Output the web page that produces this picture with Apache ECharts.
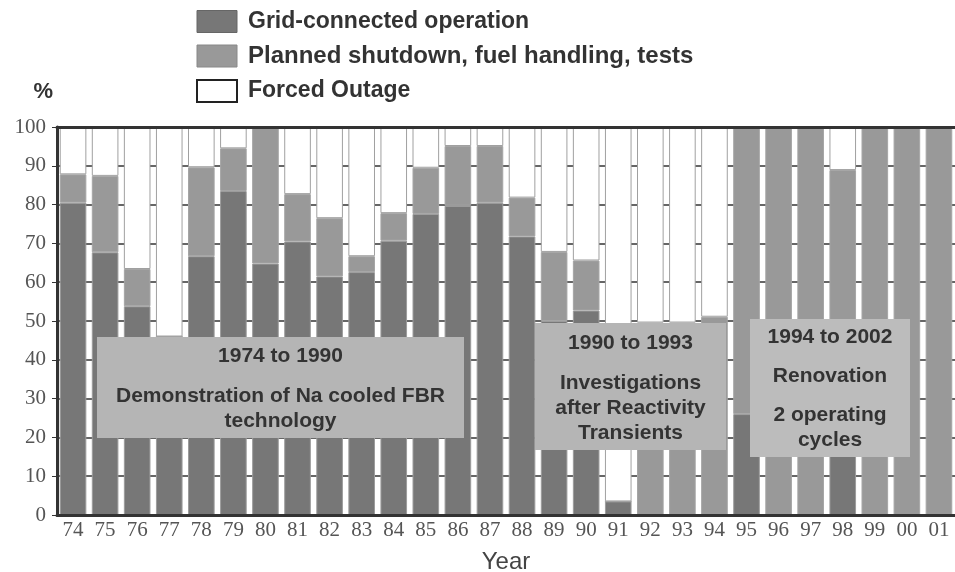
<!DOCTYPE html>
<html>
<head>
<meta charset="utf-8">
<script src="https://cdn.jsdelivr.net/npm/echarts@6/dist/echarts.min.js"></script>
<style>
  html, body { margin: 0; padding: 0; background: #fff; }
  #chart { width: 955px; height: 572px; }
</style>
</head>
<body>
<div id="chart"></div>
<script>
// years on the x axis
var years = ['74','75','76','77','78','79','80','81','82','83','84','85','86','87',
             '88','89','90','91','92','93','94','95','96','97','98','99','00','01'];
// share of the year, %
var gridOp  = [80.5,67.7,53.8,46,66.7,83.5,64.8,70.5,61.5,62.6,70.7,77.6,79.7,80.5,
               71.8,50,52.7,3.5,0,0,0,26,0,0,30,0,0,0];
var planned = [7.3,19.7,9.6,0,22.9,11,35.2,12.2,15,4.1,7.1,11.9,15.4,14.6,
               10,17.8,12.9,0,49.6,49.6,51.1,74,100,100,58.9,100,100,100];
var forced  = [12.2,12.6,36.6,54,10.4,5.5,0,17.3,23.5,33.3,22.2,10.5,4.9,4.9,
               18.2,32.2,34.4,96.5,50.4,50.4,48.9,0,0,0,11.1,0,0,0];
var yTicks = [0,10,20,30,40,50,60,70,80,90,100];

var names = ['Grid-connected operation', 'Planned shutdown, fuel handling, tests', 'Forced Outage'];
var sans = '"Liberation Sans", Arial, sans-serif';
var serif = '"Liberation Serif", "Times New Roman", serif';

var myChart = echarts.init(document.getElementById('chart'));

// text boxes over the bars
function box(x, y, w, h, fill, lines) {
    var els = [{
        type: 'rect',
        shape: { x: x, y: y, width: w, height: h },
        style: { fill: fill },
        z: 20
    }];
    for (var i = 0; i < lines.length; i++) {
        els.push({
            type: 'text',
            x: x + w / 2,
            y: lines[i][1],
            style: {
                text: lines[i][0],
                fill: '#333',
                font: 'bold 21px ' + sans,
                textAlign: 'center',
                textVerticalAlign: 'middle'
            },
            z: 21
        });
    }
    return els;
}

var graphics = []
    .concat(box(97, 337, 367, 101, '#b5b5b5', [
        ['1974 to 1990', 356], ['Demonstration of Na cooled FBR', 396], ['technology', 421]]))
    .concat(box(535, 323, 191, 127, '#b5b5b5', [
        ['1990 to 1993', 343], ['Investigations', 383], ['after Reactivity', 408], ['Transients', 433]]))
    .concat(box(750, 319, 160, 138, '#bcbcbc', [
        ['1994 to 2002', 337], ['Renovation', 376], ['2 operating', 415], ['cycles', 440]]));

var option = {
    animation: false,
    backgroundColor: '#fff',
    legend: {
        orient: 'vertical',
        left: 191,
        top: 5,
        itemWidth: 40,
        itemHeight: 22,
        itemGap: 11,
        selectedMode: false,
        textStyle: { fontFamily: sans, fontSize: 23, fontWeight: 'bold', color: '#333', padding: [0, 0, 0, 6] },
        data: [
            { name: names[0], icon: 'rect', itemStyle: { borderColor: '#666', borderWidth: 1 } },
            { name: names[1], icon: 'rect', itemStyle: { borderColor: '#888', borderWidth: 1 },
              textStyle: { fontSize: 24 } },
            { name: names[2], icon: 'rect', itemStyle: { color: '#fff', borderColor: '#222', borderWidth: 2 } }
        ]
    },
    grid: { left: 57, right: 0, top: 127, bottom: 57, outerBoundsMode: 'none' },
    xAxis: [{
        type: 'category',
        data: years,
        name: 'Year',
        nameLocation: 'middle',
        nameGap: 35,
        nameTextStyle: { fontFamily: sans, fontSize: 24, color: '#444' },
        axisLine: { lineStyle: { color: '#333', width: 3 } },
        axisTick: { show: false },
        axisLabel: { fontFamily: serif, fontSize: 21, color: '#555', margin: 5 },
        z: 10
    }, {
        type: 'category',
        data: years,
        position: 'top',
        axisLine: { lineStyle: { color: '#333', width: 3 } },
        axisTick: { show: false },
        axisLabel: { show: false },
        z: 10
    }],
    yAxis: {
        type: 'value',
        min: 0,
        max: 100,
        interval: 10,
        name: '%',
        nameLocation: 'end',
        nameGap: 24,
        nameTextStyle: { fontFamily: sans, fontSize: 22, fontWeight: 'bold', color: '#333', align: 'right', padding: [0, 4, 0, 0] },
        axisLine: { show: true, lineStyle: { color: '#333', width: 3 } },
        axisTick: { show: true, length: 5, lineStyle: { color: '#333' } },
        axisLabel: {
            fontFamily: serif, fontSize: 21, color: '#555', margin: 11,
            formatter: function (v) { return yTicks.indexOf(v) >= 0 ? String(v) : ''; }
        },
        splitLine: { show: true, lineStyle: { color: '#333', width: 1.5 } }
    },
    series: [{
        name: names[0],
        type: 'bar',
        stack: 'a',
        barCategoryGap: '17%',
        data: gridOp,
        itemStyle: { color: '#777777', borderColor: '#9c9c9c', borderWidth: 1 }
    }, {
        name: names[1],
        type: 'bar',
        stack: 'a',
        data: planned,
        itemStyle: { color: '#999999', borderColor: '#a5a5a5', borderWidth: 1 }
    }, {
        name: names[2],
        type: 'bar',
        stack: 'a',
        data: forced,
        itemStyle: { color: '#ffffff', borderColor: '#a0a0a0', borderWidth: 1 }
    }],
    graphic: graphics
};

myChart.setOption(option);
</script>
</body>
</html>
